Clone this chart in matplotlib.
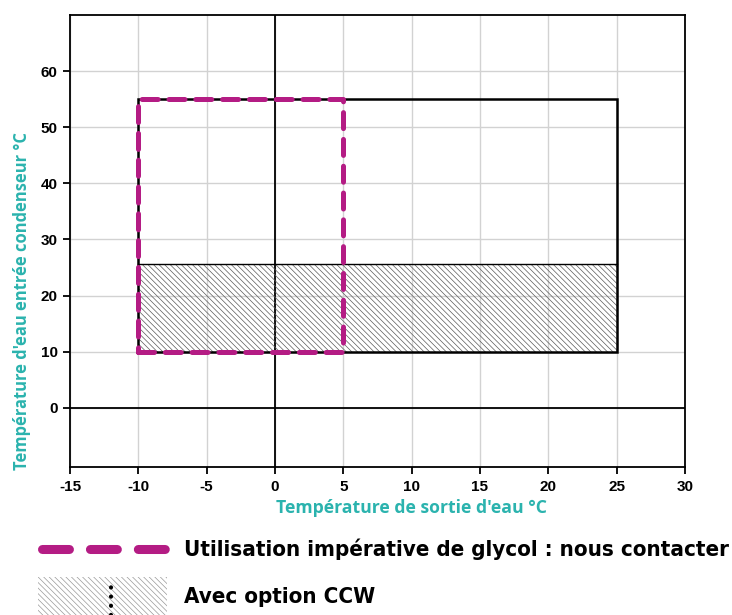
import matplotlib
matplotlib.use("Agg")
import matplotlib.pyplot as plt
from matplotlib.patches import Rectangle
from matplotlib.lines import Line2D
from matplotlib import font_manager as fm

plt.rcParams['lines.scale_dashes'] = False
plt.rcParams['hatch.linewidth'] = 0.5
plt.rcParams['axes.unicode_minus'] = False

# Operating envelope (leaving water temp °C, condenser inlet temp °C)
envelope_x = [-10, 25, 25, -10, -10]
envelope_y = [10, 10, 55, 55, 10]

# Zone requiring glycol
glycol_x = [-10, 5, 5, -10, -10]
glycol_y = [10, 10, 55, 55, 10]

# Zone available with the CCW option
ccw_x = [-10, 25]
ccw_y = [10, 25.7]

x_ticks = [-15, -10, -5, 0, 5, 10, 15, 20, 25, 30]
y_ticks = [0, 10, 20, 30, 40, 50, 60]

MAGENTA = '#B41C84'
TEAL = '#2BB3AE'
W, H = 732, 615


def find_font(pred):
    for f in fm.fontManager.ttflist:
        if pred(f):
            return f.fname
    return None


def is_bold(f):
    return f.weight in ('bold', 700) and f.style == 'normal'


def is_condensed(f):
    n = f.name.lower()
    return 'narrow' in n or 'condensed' in n or f.stretch in ('condensed', 'semi-condensed')


def is_narrow_file(f):
    return 'narrow' in f.fname.lower() or 'condensed' in f.fname.lower() or 'cond' in f.fname.lower()


# condensed bold for the legend captions
legend_path = find_font(lambda f: is_bold(f) and is_condensed(f))
# regular-width bold for ticks and axis titles
tick_path = find_font(lambda f: is_bold(f) and not is_condensed(f)
                      and not is_narrow_file(f) and f.name == 'Liberation Sans')
title_path = find_font(lambda f: is_bold(f) and not is_condensed(f)
                       and not is_narrow_file(f) and f.name == 'Open Sans')
if title_path is None:
    title_path = find_font(lambda f: is_bold(f) and not is_condensed(f)
                           and f.name == 'Noto Sans')


def props(path, size, family):
    if path:
        return fm.FontProperties(fname=path, size=size)
    return fm.FontProperties(family=family, weight='bold', size=size)


fig = plt.figure(figsize=(W / 100, H / 100), dpi=100)
ax = fig.add_axes([70 / W, (H - 467.3) / H, 615 / W, (467.3 - 15) / H])

ax.set_xlim(-15, 30)
ax.set_ylim(-10.6, 70)
ax.set_xticks(x_ticks)
ax.set_yticks(y_ticks)
kp = props(tick_path, 11, 'Liberation Sans')
ax.set_xticklabels([str(v) for v in x_ticks], fontproperties=kp)
ax.set_yticklabels([str(v) for v in y_ticks], fontproperties=kp)
ax.grid(True, color='#d2d2d2', linewidth=1.0, zorder=0)
ax.set_axisbelow(True)
for s in ax.spines.values():
    s.set_linewidth(1.3)
    s.set_color('black')

ax.tick_params(direction='out', length=5, width=1.3, colors='black', pad=4)

# Zero axes
ax.axhline(0, color='black', linewidth=1.3, zorder=1)
ax.axvline(0, color='black', linewidth=1.3, zorder=1)

# CCW hatched band
ax.add_patch(Rectangle((ccw_x[0], ccw_y[0]), ccw_x[1] - ccw_x[0], ccw_y[1] - ccw_y[0],
                       facecolor='none', edgecolor='#5a5a5a', hatch='\\' * 6,
                       linewidth=0, zorder=2))
ax.plot(ccw_x, [ccw_y[1], ccw_y[1]], color='black', linewidth=1.0, zorder=3)

# Envelope outline
ax.plot(envelope_x, envelope_y, color='black', linewidth=1.8,
        solid_joinstyle='miter', zorder=4)

# Glycol zone, dashed
ax.plot(glycol_x, glycol_y, color=MAGENTA, linewidth=3.6,
        dashes=(11.5, 7.8), dash_capstyle='round', zorder=5)

fig.text(411 / W, 1 - 508 / H, "Température de sortie d'eau °C", color=TEAL,
         fontproperties=props(title_path, 12.7, 'Noto Sans'),
         ha='center', va='center')
fig.text(22 / W, 1 - 301 / H, "Température d'eau entrée condenseur °C", color=TEAL,
         fontproperties=props(title_path, 11.9, 'Noto Sans'),
         ha='center', va='center', rotation=90)

# Legend drawn below the chart
fig.add_artist(Line2D([41.5 / W, 164.5 / W], [1 - 549 / H, 1 - 549 / H],
                      transform=fig.transFigure, color=MAGENTA, linewidth=6.5,
                      dashes=(19.4, 15.1), dash_capstyle='round'))
lp = props(legend_path, 16 if legend_path else 15, 'Liberation Sans')
fig.text(184 / W, 1 - 549 / H, "Utilisation impérative de glycol : nous contacter",
         fontproperties=lp, ha='left', va='center')

fig.add_artist(Rectangle((38 / W, 0), 129 / W, (H - 577) / H,
                         transform=fig.transFigure, facecolor='none',
                         edgecolor='#999999', hatch='\\' * 6, linewidth=0))
fig.add_artist(Line2D([111 / W, 111 / W], [0, 1 - 585 / H],
                      transform=fig.transFigure, color='black', linewidth=3,
                      linestyle=(0, (0.1, 6.5)), dash_capstyle='round'))
fig.text(184 / W, 1 - 597 / H, "Avec option CCW",
         fontproperties=lp, ha='left', va='center')

fig.savefig('out.png', dpi=100)
